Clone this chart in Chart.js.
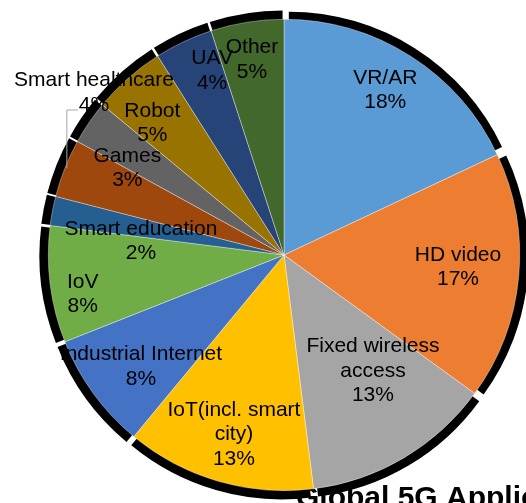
<!DOCTYPE html>
<html>
<head>
<meta charset="utf-8">
<script src="https://cdn.jsdelivr.net/npm/chart.js@4"></script>
<style>
html,body{margin:0;padding:0;background:#fff;overflow:hidden;}
canvas{display:block;}
</style>
</head>
<body>
<canvas id="c" width="526" height="503"></canvas>
<script>
const categories = ["VR/AR","HD video","Fixed wireless access","IoT(incl. smart city)","Industrial Internet","IoV","Smart education","Smart healthcare","Games","Robot","UAV","Other"];
const shares = [18,17,13,13,8,8,2,4,3,5,4,5];
const labelLines = [["VR/AR"],["HD video"],["Fixed wireless","access"],["IoT(incl. smart","city)"],["Industrial Internet"],["IoV"],["Smart education"],["Smart healthcare"],["Games"],["Robot"],["UAV"],["Other"]];
const colors = ["#5B9BD5","#ED7D31","#A5A5A5","#FFC000","#4472C4","#70AD47","#255E91","#9E480E","#636363","#997300","#264478","#43682B"];
const titleText = "Global 5G Application Distribution";

// label placement: radius fraction and angle tweak (deg) relative to slice mid-angle
const labelRad = [0.82,0.74,0.62,0.79,0.77,0.87,0.61,1.06,0.76,0.79,0.84,0.84];
const labelAng = [-0.8,-1.4,-6.9,-0.6,-2,-3.8,-5.2,18.9,-5.2,-3.6,3.9,-0.3];

const FONT = '"Liberation Sans", Arial, sans-serif';

const shadowPlugin = {
  id: 'shadowAndTitle',
  beforeDatasetsDraw(chart) {
    const ctx = chart.ctx;
    ctx.save();
    ctx.fillStyle = '#000';
    ctx.font = 'bold 30px ' + FONT;
    ctx.textAlign = 'left';
    ctx.textBaseline = 'alphabetic';
    ctx.fillText(titleText, 296, 507);
    const meta = chart.getDatasetMeta(0);
    meta.data.forEach((arc) => {
      const p = arc.getProps(['x','y','startAngle','endAngle','outerRadius'], true);
      const mid = (p.startAngle + p.endAngle) / 2;
      const d = 9;
      const cx = p.x + Math.cos(mid) * d, cy = p.y + Math.sin(mid) * d;
      ctx.beginPath();
      ctx.moveTo(cx, cy);
      ctx.arc(cx, cy, p.outerRadius, p.startAngle, p.endAngle);
      ctx.closePath();
      ctx.fill();
    });
    ctx.restore();
  },
  afterDatasetsDraw(chart) {
    const ctx = chart.ctx;
    const meta = chart.getDatasetMeta(0);
    const total = shares.reduce((a,b)=>a+b,0);
    ctx.save();
    ctx.font = '21px ' + FONT;
    ctx.fillStyle = '#000';
    ctx.textAlign = 'center';
    ctx.textBaseline = 'middle';
    const lh = 24.5;
    meta.data.forEach((arc, i) => {
      const p = arc.getProps(['x','y','startAngle','endAngle','outerRadius'], true);
      const mid = (p.startAngle + p.endAngle) / 2 + labelAng[i] * Math.PI / 180;
      const r = p.outerRadius * labelRad[i];
      const lx = p.x + Math.cos(mid) * r;
      const ly = p.y + Math.sin(mid) * r;
      const lines = labelLines[i].concat([Math.round(shares[i] / total * 100) + '%']);
      const y0 = ly - (lines.length - 1) * lh / 2;
      if (labelRad[i] > 1) {
        // leader line to slice edge
        const m0 = (p.startAngle + p.endAngle) / 2;
        const ex = p.x + Math.cos(m0) * p.outerRadius + 2;
        const ey = p.y + Math.sin(m0) * p.outerRadius;
        const hy = y0 + lh + 5;
        ctx.save();
        ctx.strokeStyle = '#A6A6A6';
        ctx.lineWidth = 1;
        ctx.beginPath();
        ctx.moveTo(ex, ey);
        ctx.lineTo(ex, hy);
        ctx.lineTo(ex + 11, hy);
        ctx.stroke();
        ctx.restore();
      }
      lines.forEach((t, k) => ctx.fillText(t, lx, y0 + k * lh));
    });
    ctx.restore();
  }
};

new Chart(document.getElementById('c'), {
  type: 'pie',
  data: {
    labels: categories,
    datasets: [{
      data: shares,
      backgroundColor: colors,
      borderColor: 'rgba(255,255,255,0.6)',
      borderWidth: 0.6
    }]
  },
  options: {
    responsive: false,
    animation: false,
    layout: { padding: { left: 48, right: 6, top: 19, bottom: 12 } },
    plugins: {
      legend: { display: false },
      tooltip: { enabled: false },
      title: { display: false }
    }
  },
  plugins: [shadowPlugin]
});
</script>
</body>
</html>
